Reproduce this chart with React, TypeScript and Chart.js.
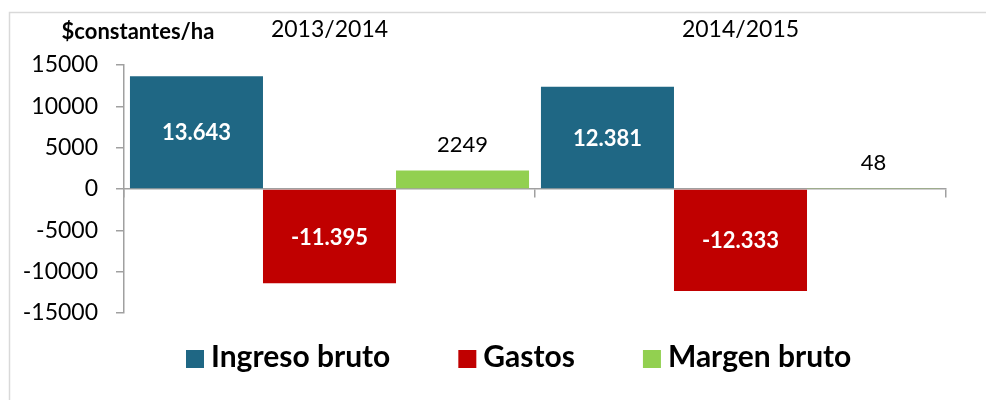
import React, { useEffect, useRef } from "react";
import { Chart, registerables } from "chart.js";

Chart.register(...registerables);

const categories = ["2013/2014", "2014/2015"];
const seriesNames = ["Ingreso bruto", "Gastos", "Margen bruto"];
const ingresoBruto = [13643, 12381];
const gastos = [-11395, -12333];
const margenBruto = [2249, 48];
const seriesColors = ["#1F6784", "#C00000", "#92D050"];
const yTitle = "$constantes/ha";
const yMin = -15000;
const yMax = 15000;
const yStep = 5000;

const FONT = "Lato";

function withDots(v: number): string {
  const s = Math.abs(Math.round(v)).toString();
  const parts: string[] = [];
  for (let i = s.length; i > 0; i -= 3) parts.unshift(s.slice(Math.max(0, i - 3), i));
  return (v < 0 ? "-" : "") + parts.join(".");
}

const overlay = {
  id: "overlay",
  beforeDraw(chart: any) {
    const { ctx, width, height } = chart;
    ctx.save();
    ctx.strokeStyle = "#d9d9d9";
    ctx.lineWidth = 1.5;
    ctx.beginPath();
    ctx.moveTo(9.5, height);
    ctx.lineTo(9.5, 12.5);
    ctx.lineTo(width, 12.5);
    ctx.stroke();
    ctx.restore();
  },
  afterDatasetsDraw(chart: any) {
    const { ctx } = chart;
    ctx.save();
    chart.data.datasets.forEach((ds: any, di: number) => {
      const meta = chart.getDatasetMeta(di);
      meta.data.forEach((el: any, i: number) => {
        const v = ds.data[i];
        ctx.textAlign = "center";
        ctx.textBaseline = "middle";
        if (di < 2) {
          ctx.font = `bold 22px ${FONT}`;
          ctx.fillStyle = "#ffffff";
          ctx.fillText(withDots(v), el.x, (el.y + el.base) / 2 + 1);
        } else {
          ctx.font = `22px ${FONT}`;
          ctx.fillStyle = "#000000";
          ctx.fillText(String(v), el.x, el.y - 26);
        }
      });
    });
    ctx.restore();
  },
  afterDraw(chart: any) {
    const { ctx } = chart;
    const xs = chart.scales.x;
    ctx.save();
    ctx.fillStyle = "#000";
    ctx.textBaseline = "alphabetic";
    ctx.textAlign = "center";
    ctx.font = `bold 22px ${FONT}`;
    ctx.fillText(yTitle, 138, 39);
    ctx.font = `23px ${FONT}`;
    categories.forEach((c, i) => {
      ctx.fillText(c, xs.getPixelForValue(i), 37);
    });
    // legend
    ctx.font = `bold 30px ${FONT}`;
    ctx.textAlign = "left";
    let x = 186;
    const box = 18;
    const gap = 7;
    const spacing = 68;
    seriesNames.forEach((name, i) => {
      ctx.fillStyle = seriesColors[i];
      ctx.fillRect(x, 350, box, box);
      ctx.fillStyle = "#000";
      ctx.fillText(name, x + box + gap, 367);
      x += box + gap + ctx.measureText(name).width + spacing;
    });
    ctx.restore();
  },
};

export default function App() {
  const ref = useRef<HTMLCanvasElement>(null);
  useEffect(() => {
    if (!ref.current) return;
    Chart.defaults.font.family = FONT;
    const chart = new Chart(ref.current, {
      type: "bar",
      data: {
        labels: categories,
        datasets: [
          { label: seriesNames[0], data: ingresoBruto, backgroundColor: seriesColors[0] },
          { label: seriesNames[1], data: gastos, backgroundColor: seriesColors[1] },
          { label: seriesNames[2], data: margenBruto, backgroundColor: seriesColors[2] },
        ],
      },
      options: {
        responsive: false,
        animation: false,
        events: [],
        layout: { padding: { top: 65, right: 40, bottom: 87, left: 0 } },
        datasets: { bar: { categoryPercentage: 0.971, barPercentage: 1 } },
        plugins: { legend: { display: false }, tooltip: { enabled: false } },
        scales: {
          x: {
            position: { y: 0 } as any,
            ticks: { display: false },
            grid: {
              display: true,
              offset: true,
              drawOnChartArea: false,
              drawTicks: true,
              tickLength: 8,
              color: "#a0a0a0",
              lineWidth: 1.5,
            },
            border: { display: true, color: "#a0a0a0", width: 1.5 },
          },
          y: {
            min: yMin,
            max: yMax,
            ticks: {
              stepSize: yStep,
              color: "#000",
              font: { size: 23, family: FONT },
              padding: 18,
              callback: (v: any) => String(v),
            },
            grid: {
              display: true,
              drawOnChartArea: false,
              drawTicks: true,
              tickLength: 8,
              color: "#a0a0a0",
              lineWidth: 1.5,
            },
            border: { display: true, color: "#a0a0a0", width: 1.5 },
            afterFit: (s: any) => {
              s.width = 124;
            },
          },
        },
      },
      plugins: [overlay],
    });
    return () => chart.destroy();
  }, []);
  return (
    <div style={{ position: "absolute", left: 0, top: 0, width: 986, height: 400, background: "#fff" }}>
      <canvas ref={ref} width={986} height={400} style={{ display: "block" }} />
    </div>
  );
}
